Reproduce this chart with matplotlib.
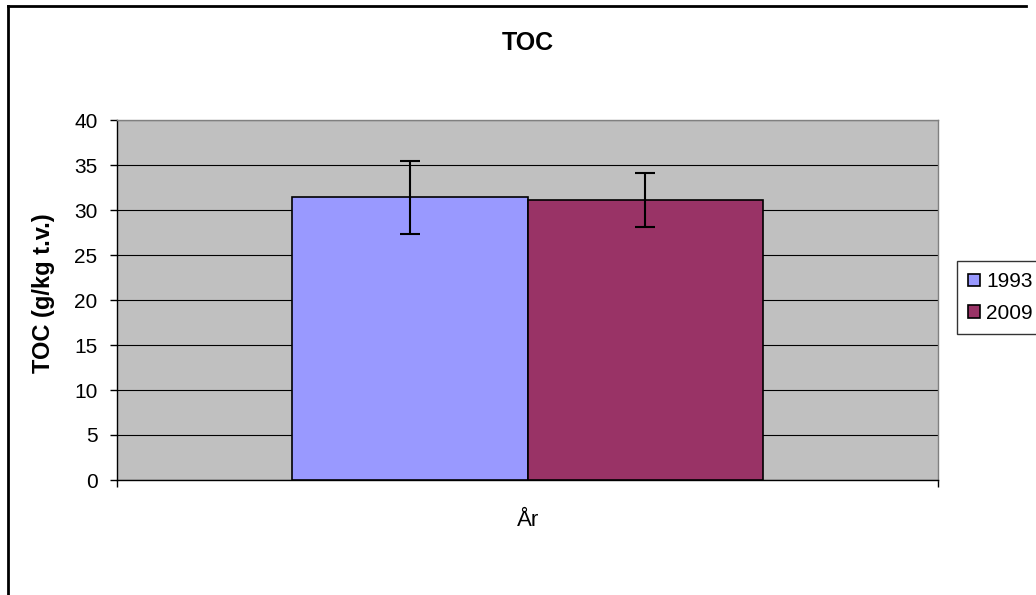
import matplotlib.pyplot as plt
from matplotlib.lines import Line2D

plt.rcParams['font.family'] = ['Liberation Sans', 'DejaVu Sans']

years = ['1993', '2009']
toc = [31.5, 31.1]
err_low = [27.3, 28.1]
err_high = [35.5, 34.1]
colors = ['#9999FF', '#993366']
yticks = [0, 5, 10, 15, 20, 25, 30, 35, 40]

W, H = 1036, 595
fig = plt.figure(figsize=(W / 100, H / 100), dpi=100)
ax = fig.add_axes([117 / W, 1 - 480 / H, 821 / W, 360 / H])
ax.set_facecolor('#C0C0C0')

width = 0.2865
xs = [0.5 - width / 2, 0.5 + width / 2]
for x, v, lo, hi, c, lab in zip(xs, toc, err_low, err_high, colors, years):
    ax.bar(x, v, width=width, color=c, edgecolor='black', linewidth=1.2,
           label=lab, zorder=3)
    ax.errorbar(x, v, yerr=[[v - lo], [hi - v]], fmt='none', ecolor='black',
                elinewidth=1.5, capsize=7, capthick=1.5, zorder=4)

ax.set_xlim(0, 1)
ax.set_ylim(0, 40)
ax.set_yticks(yticks)
ax.set_yticklabels([str(t) for t in yticks], fontsize=15)
ax.set_xticks([0, 1])
ax.set_xticklabels(['', ''])
ax.tick_params(axis='both', direction='out', length=5, width=1, color='black')
ax.tick_params(axis='y', pad=9)
ax.yaxis.grid(True, color='black', linewidth=0.8, zorder=1)
ax.set_axisbelow(True)
for side in ['top', 'right']:
    ax.spines[side].set_color('#808080')
    ax.spines[side].set_linewidth(1)
for side in ['left', 'bottom']:
    ax.spines[side].set_color('black')
    ax.spines[side].set_linewidth(1)

fig.text(44 / W, 1 - 293 / H, 'TOC (g/kg t.v.)', fontsize=17,
         fontweight='bold', rotation=90, ha='center', va='center')
fig.text(528 / W, 1 - 520 / H, 'År', fontsize=16, ha='center', va='center')
fig.text(528 / W, 1 - 43 / H, 'TOC', fontsize=18, fontweight='bold',
         ha='center', va='center')

# outer chart border (right and bottom cut off)
fig.add_artist(Line2D([8 / W, 1026 / W], [1 - 6 / H, 1 - 6 / H],
                      color='black', linewidth=2, transform=fig.transFigure))
fig.add_artist(Line2D([8 / W, 8 / W], [1 - 6 / H, 0],
                      color='black', linewidth=2, transform=fig.transFigure))

leg = fig.legend(loc='upper left', bbox_to_anchor=(957 / W, 1 - 261 / H),
                 fontsize=15, frameon=True, fancybox=False, edgecolor='black',
                 handlelength=0.55, handleheight=0.55, handletextpad=0.3,
                 borderpad=0.55, labelspacing=0.6, borderaxespad=0)
leg.get_frame().set_linewidth(1)

fig.savefig('out.png', dpi=100)
